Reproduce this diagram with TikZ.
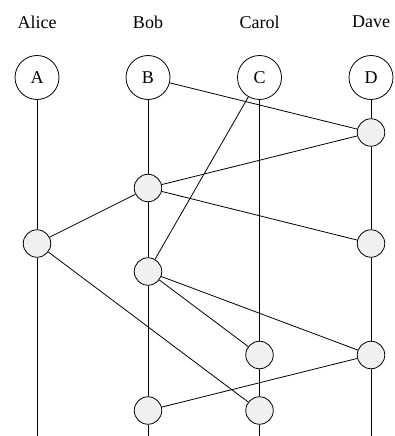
\documentclass[tikz,border=0pt]{standalone}
\usepackage{fontspec}
\setmainfont{Liberation Serif}
\begin{document}
\begin{tikzpicture}[x=1pt,y=-1pt,
  party/.style={circle,draw,line width=0.8pt,minimum size=44pt,inner sep=0pt,font=\fontsize{18}{20}\selectfont},
  event/.style={circle,draw,line width=0.8pt,fill=gray!12,minimum size=27.5pt,inner sep=0pt},
  who/.style={font=\fontsize{18}{20}\selectfont},
  link/.style={line width=0.8pt}]
\useasboundingbox (0,0) rectangle (395,436);
% participant names
\node[who] (nA) at (37,22) {Alice};
\node[who] (nB) at (148,22) {Bob};
\node[who] (nC) at (259.5,22) {Carol};
\node[who] (nD) at (371,22) {Dave};
% participants
\node[party] (A) at (37,77.5) {A};
\node[party] (B) at (148,77.5) {B};
\node[party] (C) at (259.5,77.5) {C};
\node[party] (D) at (371,77.5) {D};
% events
\node[event] (d1) at (371,132.5) {};
\node[event] (b1) at (148,188) {};
\node[event] (a1) at (37,243.5) {};
\node[event] (d2) at (371,243.5) {};
\node[event] (b2) at (148,271.5) {};
\node[event] (c1) at (259.5,355) {};
\node[event] (d3) at (371,355) {};
\node[event] (b3) at (148,410.5) {};
\node[event] (c2) at (259.5,410.5) {};
% loose ends of the timelines
\coordinate (aend) at (37,436);
\coordinate (bend) at (148,436);
\coordinate (cend) at (259.5,436);
\coordinate (dend) at (371,436);
% timelines
\draw[link] (A) -- (a1) -- (aend);
\draw[link] (B) -- (b1) -- (b2) -- (b3) -- (bend);
\draw[link] (C) -- (c1) -- (c2) -- (cend);
\draw[link] (D) -- (d1) -- (d2) -- (d3) -- (dend);
% messages
\draw[link] (B) -- (d1);
\draw[link] (d1) -- (b1);
\draw[link] (b1) -- (a1);
\draw[link] (b1) -- (d2);
\draw[link] (C) -- (b2);
\draw[link] (a1) -- (c2);
\draw[link] (b2) -- (c1);
\draw[link] (b2) -- (d3);
\draw[link] (d3) -- (b3);
\end{tikzpicture}
\end{document}
